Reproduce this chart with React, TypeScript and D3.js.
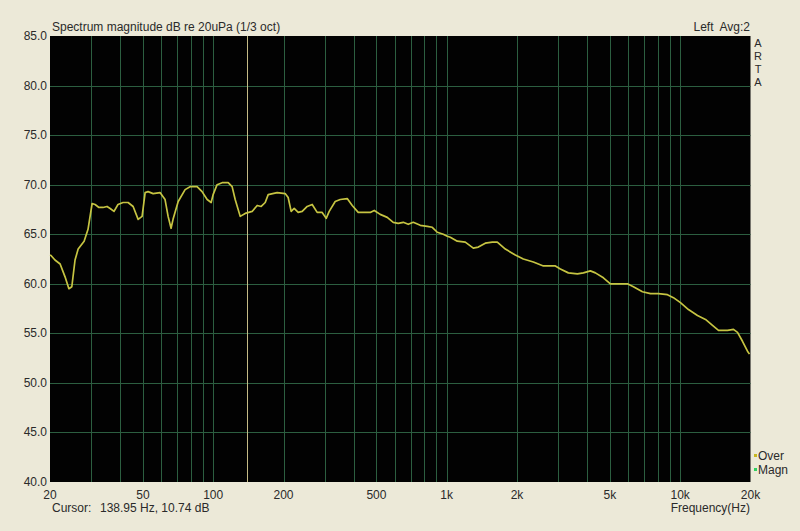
import React from "react";
import * as d3 from "d3";

const freqs = [
  20, 20.2, 21.0, 22.1, 23.2, 24.1, 24.8, 25.6, 26.4, 28.0, 29.1, 30.3, 31.2, 32.4, 33.7, 35.1, 36.2, 37.6, 39.1, 41.1,
  43.2, 45.4, 47.7, 49.6, 51.1, 52.6, 55.3, 59.2, 62.2, 64.1, 66.0, 67.3, 70.8, 75.8, 79.6, 85.3, 89.6, 94.2, 98.0, 99.9,
  103.9, 109.2, 115.9, 120.5, 124.2, 130.5, 137.1, 146.8, 154.3, 160.5, 167.0, 172.0, 187.9, 203.3, 209.4, 215.7, 222.2,
  231.2, 240.5, 252.6, 265.4, 278.8, 292.9, 304.7, 313.9, 333.0, 349.9, 374.9, 393.9, 417.9, 470.5, 489.4, 519.2, 556.3,
  590.2, 620.1, 651.5, 684.4, 719.0, 770.4, 825.5, 867.3, 911.1, 966.7, 1006, 1036, 1110, 1201, 1300, 1366, 1463, 1568,
  1647, 1783, 1967, 2129, 2350, 2594, 2920, 3068, 3319, 3628, 3849, 4124, 4333, 4688, 5024, 5437, 5943, 6304, 6891, 7457,
  8069, 8819, 9354, 10024, 10848, 11858, 12832, 13750, 14589, 15940, 16912, 17594, 18482, 19416, 19804,
];
const levels = [
  62.9, 62.85, 62.4, 62.0, 60.7, 59.5, 59.7, 62.4, 63.5, 64.3, 65.5, 68.1, 68.0, 67.7, 67.7, 67.8, 67.6, 67.3, 68.0, 68.2,
  68.2, 67.8, 66.5, 66.8, 69.2, 69.3, 69.1, 69.2, 68.5, 66.8, 65.6, 66.5, 68.3, 69.5, 69.8, 69.8, 69.3, 68.5, 68.2, 69.0,
  70.0, 70.2, 70.2, 69.8, 68.5, 66.8, 67.1, 67.3, 67.9, 67.8, 68.2, 69.0, 69.2, 69.1, 68.7, 67.3, 67.6,
  67.2, 67.3, 67.8, 68.0, 67.2, 67.2, 66.6, 67.3, 68.3, 68.5, 68.6, 67.9, 67.2, 67.2, 67.4, 67.0, 66.7,
  66.2, 66.1, 66.2, 66.0, 66.2, 65.9, 65.8, 65.7, 65.2, 65.0, 64.8, 64.7, 64.3, 64.2, 63.6, 63.7, 64.1, 64.2,
  64.2, 63.5, 62.9, 62.5, 62.2, 61.8, 61.8, 61.5, 61.1, 61.0, 61.1, 61.3, 61.1, 60.6, 60.0, 60.0, 60.0, 59.7, 59.2, 59.0,
  59.0, 58.9, 58.6, 58.1, 57.4, 56.8, 56.4, 55.8, 55.3, 55.3, 55.4, 55.1, 54.2, 53.2, 52.9,
];

const yTicks = [85, 80, 75, 70, 65, 60, 55, 50, 45, 40];
const gridFreqs = [
  30, 40, 50, 60, 70, 80, 90, 100, 200, 300, 400, 500, 600, 700, 800, 900,
  1000, 2000, 3000, 4000, 5000, 6000, 7000, 8000, 9000, 10000,
];
const xTickValues = [20, 50, 100, 200, 500, 1000, 2000, 5000, 10000, 20000];
const xTickLabels = ["20", "50", "100", "200", "500", "1k", "2k", "5k", "10k", "20k"];
const cursorFreq = 138.95;
const titleText = "Spectrum magnitude dB re 20uPa (1/3 oct)";
const rightTitle = "Left  Avg:2";
const cursorText = "138.95 Hz, 10.74 dB";
const artaLetters = ["A", "R", "T", "A"];
const legendItems = [
  { label: "Over", color: "#c8b820" },
  { label: "Magn", color: "#30d060" },
];

const W = 800;
const H = 531;
const L = 50, R = 750.5, T = 36, B = 482;
const font = "'Liberation Sans', Arial, sans-serif";
const textCol = "#2a2a2a";

export default function App() {
  const x = d3.scaleLog().domain([20, 20000]).range([L, R]);
  const y = d3.scaleLinear().domain([40, 85]).range([B, T]);
  const pts: [number, number][] = freqs.map((f, i) => [f, levels[i]]);
  const line = d3
    .line<[number, number]>()
    .x((d) => x(d[0]))
    .y((d) => y(d[1]))
    .curve(d3.curveLinear);

  return (
    <svg
      width={W}
      height={H}
      style={{ position: "absolute", left: 0, top: 0, display: "block" }}
    >
      <rect x={0} y={0} width={W} height={H} fill="#ece9d8" />
      <rect x={L} y={T} width={R - L} height={B - T} fill="#020202" />
      {gridFreqs.map((f) => (
        <line
          key={"v" + f}
          x1={Math.round(x(f)) + 0.5}
          x2={Math.round(x(f)) + 0.5}
          y1={T}
          y2={B}
          stroke="#2c5e40"
          strokeWidth={1}
        />
      ))}
      {yTicks.slice(1, -1).map((v) => (
        <line
          key={"h" + v}
          x1={L}
          x2={R}
          y1={Math.round(y(v)) + 0.5}
          y2={Math.round(y(v)) + 0.5}
          stroke="#2c5e40"
          strokeWidth={1}
        />
      ))}
      <line
        x1={Math.round(x(cursorFreq)) + 0.5}
        x2={Math.round(x(cursorFreq)) + 0.5}
        y1={T}
        y2={B}
        stroke="#c4bb86"
        strokeWidth={1}
      />
      <path d={line(pts) || ""} fill="none" stroke="#c6c442" strokeWidth={1.7} strokeLinejoin="round" />

      <g fontFamily={font} fontSize={12} fill={textCol}>
        <text x={52} y={31}>{titleText}</text>
        <text x={750} y={31} textAnchor="end" style={{ whiteSpace: "pre" }}>{rightTitle}</text>
        {artaLetters.map((c, i) => (
          <text key={"a" + i} x={758} y={47 + i * 13} textAnchor="middle" fontSize={11}>{c}</text>
        ))}
        {yTicks.map((v) => (
          <text key={"y" + v} x={47} y={y(v) + 4} textAnchor="end">{v.toFixed(1)}</text>
        ))}
        {xTickValues.map((v, i) => (
          <text key={"x" + v} x={x(v)} y={499} textAnchor="middle">{xTickLabels[i]}</text>
        ))}
        <text x={52} y={512}>Cursor:</text>
        <text x={100} y={512}>{cursorText}</text>
        <text x={750} y={512} textAnchor="end">Frequency(Hz)</text>
        {legendItems.map((d, i) => (
          <g key={d.label}>
            <rect x={754} y={454 + i * 14} width={3} height={3} fill={d.color} />
            <text x={758} y={460 + i * 14}>{d.label}</text>
          </g>
        ))}
      </g>
    </svg>
  );
}
